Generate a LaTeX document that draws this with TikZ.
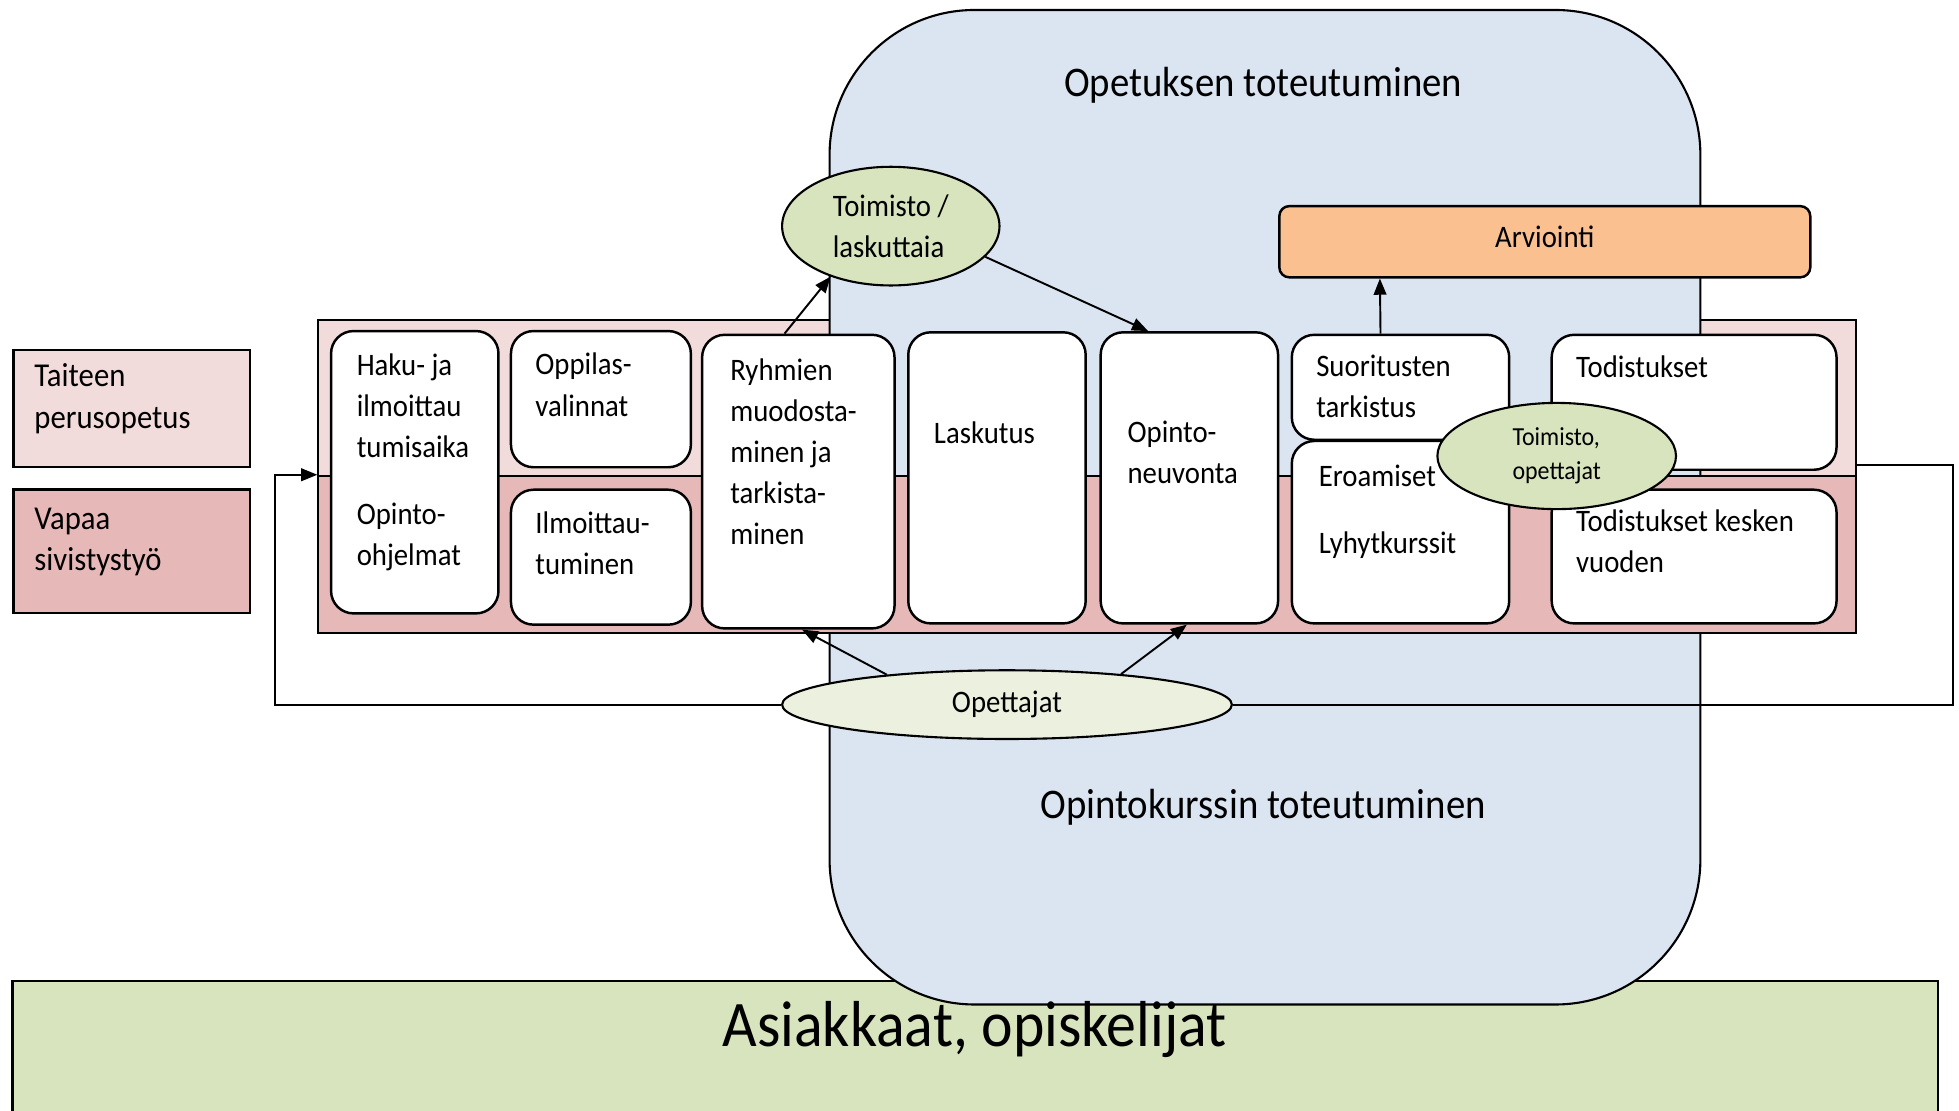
\documentclass[tikz,border=0pt]{standalone}
\usepackage{fontspec}
\setmainfont{Carlito}[FakeStretch=0.92]
\usetikzlibrary{arrows.meta,shapes.geometric}

\definecolor{kurssiblue}{HTML}{DBE5F1}
\definecolor{taidepink}{HTML}{F2DCDB}
\definecolor{vapaapink}{HTML}{E6B9B8}
\definecolor{arvorange}{HTML}{FAC090}
\definecolor{toimgreen}{HTML}{D7E4BD}
\definecolor{opegreen}{HTML}{EBF1DE}

\newlength{\pxu}
\setlength{\pxu}{0.0125cm}

\begin{document}
\begin{tikzpicture}[x=0.0125cm, y=-0.0125cm,
    box/.style={draw, fill=white, rounded corners=18\pxu, line width=0.7pt, anchor=north west, inner sep=0pt},
    band/.style={draw, line width=0.6pt, anchor=north west, inner sep=0pt, minimum width=1231\pxu},
    legendbox/.style={draw, line width=0.6pt, anchor=north west, inner sep=0pt, minimum width=189\pxu},
    txt/.style={anchor=base west, align=left, inner sep=0pt, font=\fontsize{8.9pt}{11.7pt}\selectfont},
    bubble/.style={ellipse, draw, line width=0.6pt, fill=toimgreen, inner sep=0pt, align=left, font=\fontsize{8.9pt}{11.7pt}\selectfont},
    arr/.style={-{Triangle[length=4.6pt,width=3.6pt]}, line width=0.55pt},
    loop/.style={line width=0.55pt}]
    \useasboundingbox (0,0) rectangle (1568,889);
    \clip (0,0) rectangle (1568,889);

    % Asiakkaat (bottom)
    \filldraw[fill=toimgreen, line width=0.6pt] (10,785) rectangle (1551,900);

    % Taiteen perusopetus band (behind the blue)
    \node[band, fill=taidepink, minimum height=125\pxu] (taideband) at (254,255) {};

    % Opetuksen / opintokurssin toteutuminen
    \filldraw[fill=kurssiblue, line width=0.6pt, rounded corners=116\pxu] (664,8) rectangle (1361,804);
    \node[anchor=base, font=\fontsize{12pt}{14pt}\selectfont] (opetus) at (1011,77) {Opetuksen toteutuminen};
    \node[anchor=base, font=\fontsize{12pt}{14pt}\selectfont] (kurssi) at (1011,655) {Opintokurssin toteutuminen};
    \node[anchor=base, font=\fontsize{18.5pt}{22pt}\selectfont] (asiakkaat) at (780,838) {Asiakkaat, opiskelijat};

    % Vapaa sivistystyo band
    \node[band, fill=vapaapink, minimum height=126\pxu] (vapaaband) at (254,380) {};

    % Legend (last line baselines)
    \node[legendbox, fill=taidepink, minimum height=94\pxu] (taideleg) at (10,279) {};
    \node[txt, font=\fontsize{9.5pt}{11.9pt}\selectfont] (taidetxt) at (27,343) {Taiteen\\perusopetus};
    \node[legendbox, fill=vapaapink, minimum height=99\pxu] (vapaaleg) at (10,391) {};
    \node[txt, font=\fontsize{9.5pt}{11.9pt}\selectfont] (vapaatxt) at (27,457) {Vapaa\\sivistystyö};

    % Opettajat loop
    \node[bubble, fill=opegreen, minimum width=360\pxu, minimum height=55\pxu, align=center] (opettajat) at (806,564) {Opettajat};
    \coordinate (loopL) at (220,564);
    \coordinate (loopR) at (1563,564);
    \draw[arr] (opettajat.west) -- (loopL) |- (vapaaband.north west);
    \draw[loop] (opettajat.east) -- (loopR) |- ([yshift=8\pxu]vapaaband.north east);

    % Process boxes
    \node[box, minimum width=134\pxu, minimum height=226\pxu] (haku) at (264,264) {};
    \node[txt] (hakutxt) at (285,453) {Haku- ja\\ilmoittau\\tumisaika\\[7.5pt]Opinto-\\ohjelmat};
    \node[box, minimum width=144\pxu, minimum height=109\pxu] (oppilas) at (408,264) {};
    \node[txt] (oppilastxt) at (428,333) {Oppilas-\\valinnat};
    \node[box, minimum width=144\pxu, minimum height=108\pxu] (ilmo) at (408,391) {};
    \node[txt] (ilmotxt) at (428,460) {Ilmoittau-\\tuminen};
    \node[box, minimum width=154\pxu, minimum height=235\pxu] (ryhmat) at (561,267) {};
    \node[txt] (ryhmattxt) at (584,436) {Ryhmien\\muodosta-\\minen ja\\tarkista-\\minen};
    \node[box, minimum width=142\pxu, minimum height=233\pxu] (laskutus) at (726,265) {};
    \node[txt] (laskutustxt) at (747,355) {Laskutus};
    \node[box, minimum width=142\pxu, minimum height=233\pxu] (neuvonta) at (880,265) {};
    \node[txt] (neuvontatxt) at (902,387) {Opinto-\\neuvonta};
    \node[box, minimum width=174\pxu, minimum height=84\pxu] (suoritus) at (1033,267) {};
    \node[txt] (suoritustxt) at (1053,334) {Suoritusten\\tarkistus};
    \node[box, minimum width=174\pxu, minimum height=146\pxu] (eroamiset) at (1033,352) {};
    \node[txt] (eroamisettxt) at (1055,443) {Eroamiset\\[7.5pt]Lyhytkurssit};
    \node[box, minimum width=228\pxu, minimum height=108\pxu] (todistus) at (1241,267) {};
    \node[txt] (todistustxt) at (1261,302) {Todistukset};
    \node[box, minimum width=228\pxu, minimum height=107\pxu] (todistuskesken) at (1241,391) {};
    \node[txt] (todistuskeskentxt) at (1261,458) {Todistukset kesken\\vuoden};

    % Arviointi
    \node[box, fill=arvorange, rounded corners=8\pxu, minimum width=425\pxu, minimum height=57\pxu, text depth=2.8pt, font=\fontsize{8.9pt}{11.7pt}\selectfont] (arviointi) at (1023,164) {Arviointi};

    % Toimisto
    \node[bubble, minimum width=174\pxu, minimum height=95\pxu] (toimisto) at (713,181) {Toimisto /\\laskuttaia};
    \node[bubble, minimum width=191\pxu, minimum height=85\pxu, font=\fontsize{7.4pt}{9.6pt}\selectfont] (toimistoope) at (1246,365) {Toimisto,\\opettajat};

    % Arrows
    \draw[arr] ([xshift=-11\pxu]ryhmat.north) -- (toimisto.220);
    \draw[arr] (toimisto.342) -- ([xshift=-33\pxu]neuvonta.north);
    \draw[arr] ([xshift=-16\pxu]suoritus.north) -- ([xshift=-132\pxu]arviointi.south);
    \draw[arr] (opettajat.166) -- ([xshift=3\pxu]ryhmat.south);
    \draw[arr] (opettajat.15) -- ([xshift=-2\pxu]neuvonta.south);
\end{tikzpicture}
\end{document}
